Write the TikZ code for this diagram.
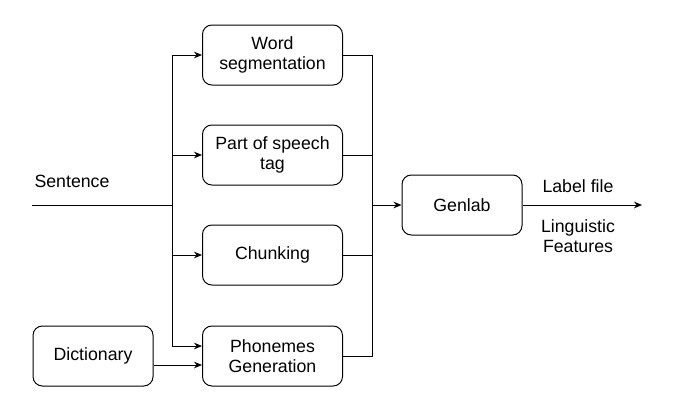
\documentclass[tikz,border=0pt]{standalone}
\usepackage{fontspec}
\setmainfont{Liberation Sans}
\usetikzlibrary{arrows.meta}
\tikzset{
  box/.style={draw, rounded corners=7pt, minimum width=105pt, minimum height=45pt, align=center, font=\fontsize{13.3}{15}\selectfont},
  lbl/.style={align=center, font=\fontsize{13.3}{15}\selectfont},
  arr/.style={-{Stealth[length=6pt,width=5pt]}},
}
\begin{document}
\begin{tikzpicture}[x=0.75pt,y=-0.75pt,line width=0.75pt]
\useasboundingbox (0,0) rectangle (676,412);
% boxes
\node[box] (word) at (272.5,55) {Word\\segmentation};
\node[box] (pos) at (272.5,155) {Part of speech\\tag};
\node[box] (chunk) at (272.5,255) {Chunking};
\node[box] (phon) at (272.5,356) {Phonemes\\Generation};
\node[box, minimum width=90pt] (dict) at (93,356) {Dictionary};
\node[box, minimum width=90pt] (genlab) at (462,205) {Genlab};
% labels
\node[lbl] (sent) at (72,181) {Sentence};
\node[lbl] (lblfile) at (578,186) {Label file};
\node[lbl] (ling) at (578,236) {Linguistic\\Features};
% free ends
\coordinate (in) at (32,205);
\coordinate (split) at (172.5,205);
\coordinate (join) at (372.5,205);
\coordinate (out) at (642,205);
% left side
\draw (in) -- (split);
\draw[arr] (split) |- (word.west);
\draw[arr] (split) |- (pos.west);
\draw[arr] (split) |- (chunk.west);
\draw[arr] (split) |- ([yshift=7.5pt]phon.west);
\draw[arr] (dict.east |- 0,365) -- (phon.west |- 0,365);
% right side
\draw (word.east) -| (join);
\draw (pos.east) -| (join);
\draw (chunk.east) -| (join);
\draw (phon.east) -| (join);
\draw[arr] (join) -- (genlab.west);
\draw[arr] (genlab.east) -- (out);
\end{tikzpicture}
\end{document}
